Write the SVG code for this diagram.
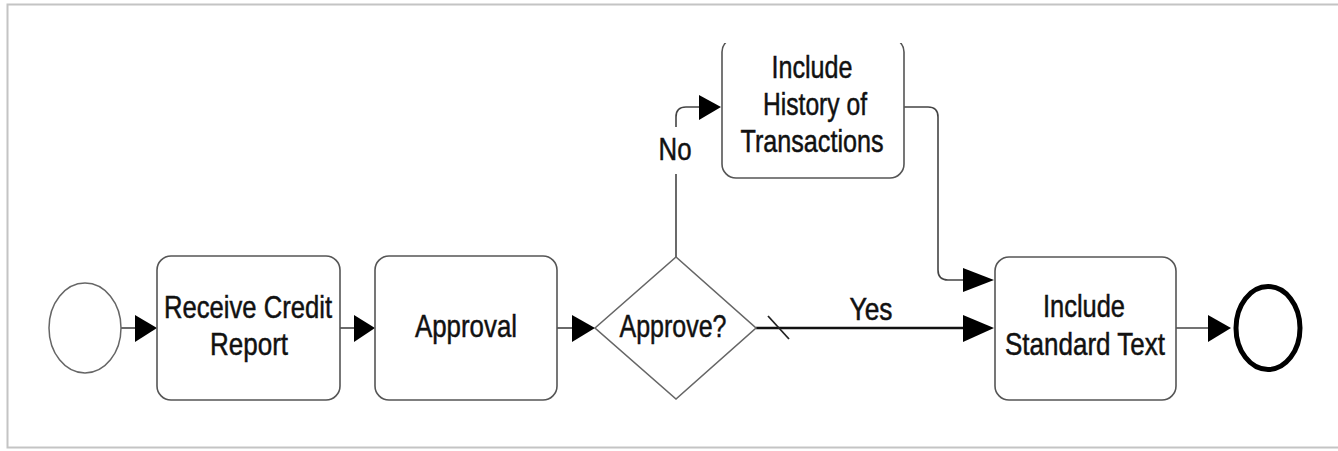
<svg xmlns="http://www.w3.org/2000/svg" width="1338" height="451" viewBox="0 0 1338 451">
<defs>
<style>
.box{fill:#fff;stroke:#555;stroke-width:1.6}
.lbl{font-family:"Liberation Sans",Arial,sans-serif;font-size:32px;fill:#111;stroke:#111;stroke-width:0.5;text-anchor:middle}
.cn{fill:none;stroke:#444;stroke-width:1.6}
.ah{fill:#000}
</style>
<clipPath id="histclip"><rect x="700" y="43" width="230" height="150"/></clipPath>
</defs>
<rect x="0" y="0" width="1338" height="451" fill="#fff"/>
<rect x="7.5" y="4.5" width="1340" height="443" fill="none" stroke="#c4c4c4" stroke-width="2"/>

<g id="connectors">
<path class="cn" d="M121,328 H137"/>
<polygon class="ah" points="135,315 157,328 135,342"/>
<path class="cn" d="M340,328 H356"/>
<polygon class="ah" points="354,315 375,328 354,342"/>
<path class="cn" d="M557,328 H574"/>
<polygon class="ah" points="572,315 595,328 572,342"/>
<path d="M756,328 H966" fill="none" stroke="#111" stroke-width="2.6"/>
<path d="M768,316 L789,339" stroke="#222" stroke-width="1.8"/>
<polygon class="ah" points="963,315 994,328 963,342"/>
<text class="lbl" x="871" y="320" textLength="43" lengthAdjust="spacingAndGlyphs">Yes</text>
<path class="cn" d="M676,257 V174"/>
<path class="cn" d="M676,127 V117 Q676,107 686,107 H701"/>
<polygon class="ah" points="699,95 721,107 699,120"/>
<text class="lbl" x="675" y="160" textLength="33" lengthAdjust="spacingAndGlyphs">No</text>
<path class="cn" d="M904,107 H928 Q938,107 938,117 V270 Q938,280 948,280 H966"/>
<polygon class="ah" points="963,268 994,280 963,292"/>
<path class="cn" d="M1176,328 H1210"/>
<polygon class="ah" points="1208,315 1231,328 1208,342"/>
</g>

<g id="start">
<ellipse cx="85" cy="328" rx="36" ry="45" fill="#fff" stroke="#666" stroke-width="1.5"/>
</g>

<g id="receive">
<rect class="box" x="157" y="256" width="183" height="144" rx="14"/>
<text class="lbl" x="248" y="318" textLength="168" lengthAdjust="spacingAndGlyphs">Receive Credit</text>
<text class="lbl" x="249" y="355" textLength="78" lengthAdjust="spacingAndGlyphs">Report</text>
</g>

<g id="approval">
<rect class="box" x="375" y="256" width="182" height="144" rx="14"/>
<text class="lbl" x="466" y="337" textLength="102" lengthAdjust="spacingAndGlyphs">Approval</text>
</g>

<g id="approve">
<polygon points="595,328 676,257 756,328 676,399" fill="#fff" stroke="#666" stroke-width="1.6"/>
<text class="lbl" x="673" y="337" textLength="107" lengthAdjust="spacingAndGlyphs">Approve?</text>
</g>

<g id="history">
<rect class="box" x="722" y="38" width="182" height="140" rx="14" clip-path="url(#histclip)"/>
<text class="lbl" x="812" y="78" textLength="81" lengthAdjust="spacingAndGlyphs">Include</text>
<text class="lbl" x="815" y="115" textLength="104" lengthAdjust="spacingAndGlyphs">History of</text>
<text class="lbl" x="812" y="152" textLength="143" lengthAdjust="spacingAndGlyphs">Transactions</text>
</g>

<g id="standard">
<rect class="box" x="995" y="257" width="181" height="143" rx="14"/>
<text class="lbl" x="1084" y="317" textLength="82" lengthAdjust="spacingAndGlyphs">Include</text>
<text class="lbl" x="1085" y="355" textLength="160" lengthAdjust="spacingAndGlyphs">Standard Text</text>
</g>

<g id="end">
<ellipse cx="1268" cy="328" rx="32" ry="41.5" fill="#fff" stroke="#000" stroke-width="5"/>
</g>
</svg>
